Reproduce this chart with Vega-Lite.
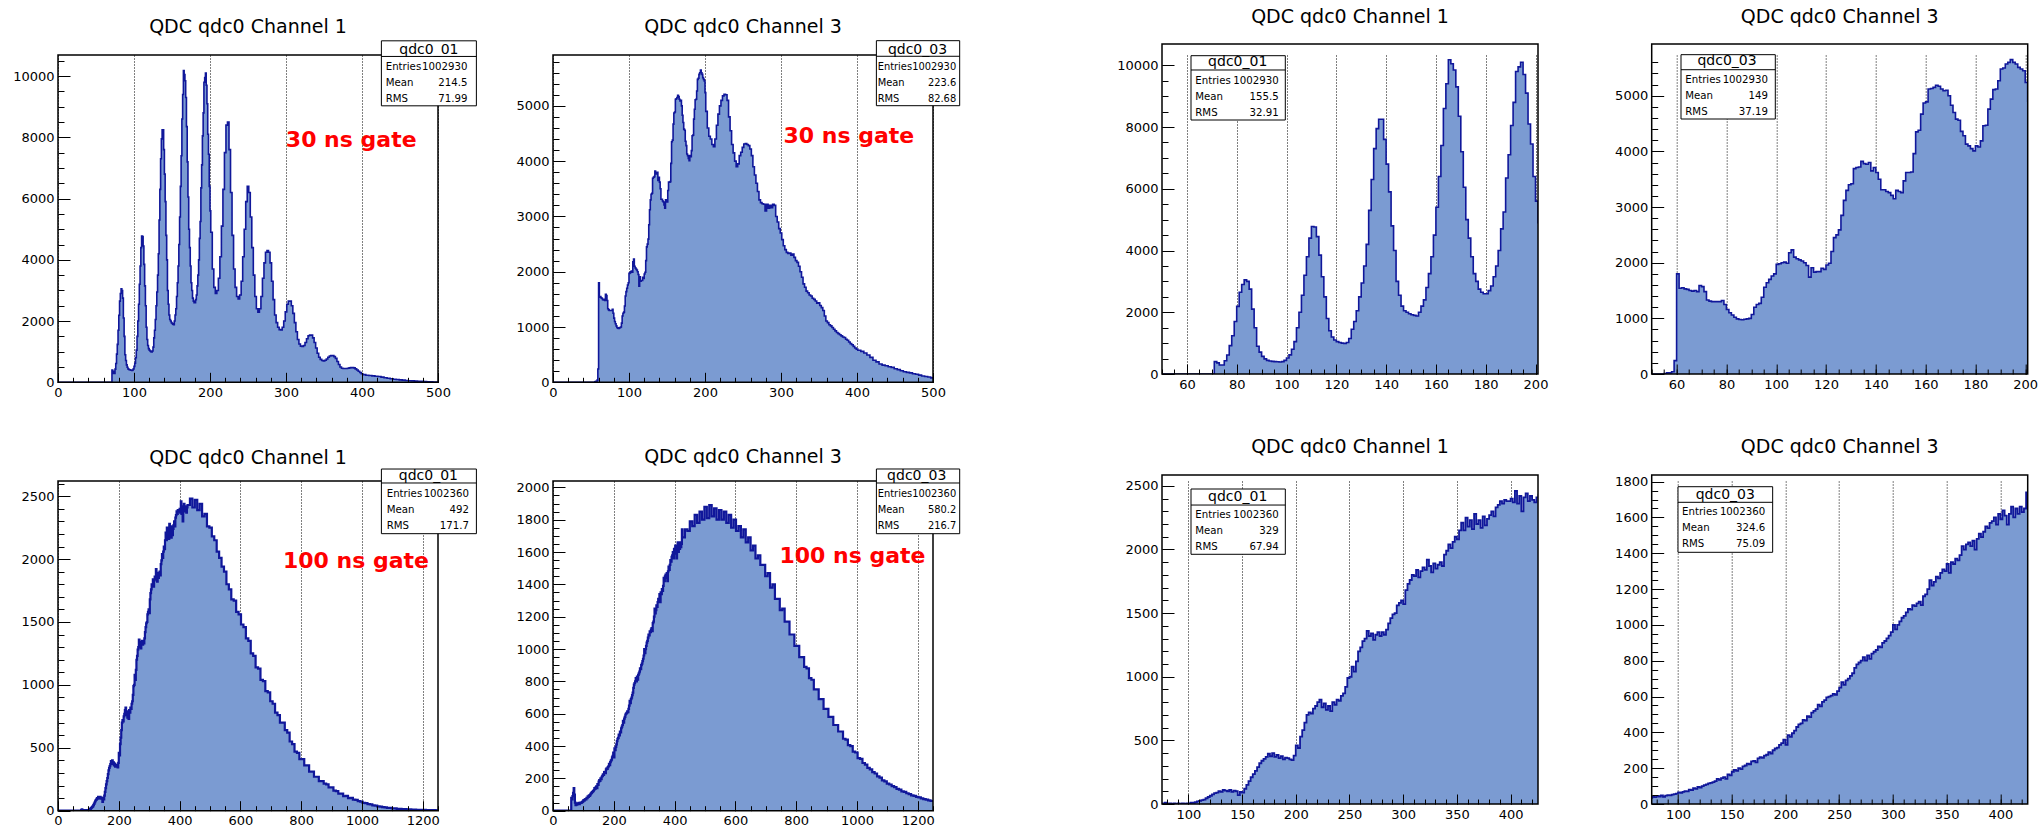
{
"$schema": "https://vega.github.io/schema/vega-lite/v6.json",
"padding": {"left": 12, "top": 8, "right": 2, "bottom": 0},
"background": "white",
"config": {
 "view": {"stroke": null},
 "axis": {"domain": false, "labelFont": "DejaVu Sans", "labelFontSize": 13, "labelColor": "black", "tickColor": "black", "tickWidth": 1, "labelFlush": false, "labelOverlap": false, "labelBound": false, "grid": false, "gridDash": [1, 2], "gridColor": "black", "gridWidth": 1, "gridOpacity": 1, "offset": 0},
 "title": {"font": "DejaVu Sans", "fontSize": 19, "fontWeight": "normal", "color": "black", "anchor": "middle", "frame": "group"},
 "text": {"font": "DejaVu Sans", "color": "black"}
},
"datasets": {
"A": [{"x":0,"y":0},{"x":71,"y":400},{"x":72,"y":360},{"x":73,"y":290},{"x":74,"y":290},{"x":75,"y":430},{"x":76,"y":615},{"x":77,"y":920},{"x":78,"y":1240},{"x":79,"y":1700},{"x":80,"y":2190},{"x":81,"y":2650},{"x":82,"y":2900},{"x":83,"y":3050},{"x":84,"y":3000},{"x":85,"y":2750},{"x":86,"y":2100},{"x":87,"y":1500},{"x":88,"y":900},{"x":89,"y":710},{"x":90,"y":570},{"x":91,"y":490},{"x":92,"y":440},{"x":93,"y":420},{"x":94,"y":410},{"x":95,"y":400},{"x":96,"y":395},{"x":97,"y":390},{"x":98,"y":400},{"x":99,"y":440},{"x":100,"y":520},{"x":101,"y":620},{"x":102,"y":800},{"x":103,"y":1050},{"x":104,"y":1500},{"x":105,"y":2000},{"x":106,"y":2550},{"x":107,"y":3200},{"x":108,"y":3800},{"x":109,"y":4400},{"x":110,"y":4780},{"x":111,"y":4760},{"x":112,"y":4450},{"x":113,"y":3850},{"x":114,"y":3150},{"x":115,"y":2500},{"x":116,"y":1800},{"x":117,"y":1400},{"x":118,"y":1200},{"x":119,"y":1100},{"x":120,"y":1050},{"x":121,"y":1020},{"x":122,"y":1000},{"x":123,"y":990},{"x":124,"y":1020},{"x":125,"y":1150},{"x":126,"y":1450},{"x":127,"y":1700},{"x":128,"y":2050},{"x":129,"y":2500},{"x":130,"y":2950},{"x":131,"y":3500},{"x":132,"y":4200},{"x":133,"y":5300},{"x":134,"y":6300},{"x":135,"y":7300},{"x":136,"y":7950},{"x":137,"y":8250},{"x":138,"y":8250},{"x":139,"y":7600},{"x":140,"y":6800},{"x":141,"y":5900},{"x":142,"y":4800},{"x":143,"y":4000},{"x":144,"y":3000},{"x":145,"y":2550},{"x":146,"y":2200},{"x":147,"y":2050},{"x":148,"y":2000},{"x":149,"y":1950},{"x":150,"y":1920},{"x":151,"y":1900},{"x":152,"y":1880},{"x":153,"y":2000},{"x":154,"y":2200},{"x":155,"y":2400},{"x":156,"y":2800},{"x":157,"y":3250},{"x":158,"y":3800},{"x":159,"y":4500},{"x":160,"y":5400},{"x":161,"y":6400},{"x":162,"y":7400},{"x":163,"y":8600},{"x":164,"y":9400},{"x":165,"y":10180},{"x":166,"y":10050},{"x":167,"y":9850},{"x":168,"y":9300},{"x":169,"y":8350},{"x":170,"y":7200},{"x":171,"y":6050},{"x":172,"y":5000},{"x":173,"y":4400},{"x":174,"y":3800},{"x":175,"y":3250},{"x":176,"y":3000},{"x":177,"y":2750},{"x":178,"y":2650},{"x":179,"y":2600},{"x":180,"y":2600},{"x":181,"y":2700},{"x":182,"y":2850},{"x":183,"y":3150},{"x":184,"y":3500},{"x":185,"y":4000},{"x":186,"y":4700},{"x":187,"y":5250},{"x":188,"y":6350},{"x":189,"y":7100},{"x":190,"y":8050},{"x":191,"y":8800},{"x":192,"y":9800},{"x":193,"y":9950},{"x":194,"y":10100},{"x":195,"y":9700},{"x":196,"y":9100},{"x":197,"y":8100},{"x":198,"y":7450},{"x":199,"y":6400},{"x":200,"y":5600},{"x":201,"y":4900},{"x":203,"y":3700},{"x":205,"y":3100},{"x":207,"y":2900},{"x":209,"y":3000},{"x":211,"y":3400},{"x":213,"y":4100},{"x":215,"y":5100},{"x":217,"y":6300},{"x":219,"y":7500},{"x":221,"y":8400},{"x":223,"y":8500},{"x":225,"y":7600},{"x":227,"y":6200},{"x":229,"y":4800},{"x":231,"y":3700},{"x":233,"y":3100},{"x":235,"y":2800},{"x":237,"y":2720},{"x":239,"y":2850},{"x":241,"y":3300},{"x":243,"y":4100},{"x":245,"y":5000},{"x":247,"y":5900},{"x":249,"y":6400},{"x":251,"y":6200},{"x":253,"y":5400},{"x":255,"y":4400},{"x":257,"y":3500},{"x":259,"y":2800},{"x":261,"y":2400},{"x":263,"y":2290},{"x":265,"y":2400},{"x":267,"y":2800},{"x":269,"y":3400},{"x":271,"y":3900},{"x":273,"y":4250},{"x":275,"y":4300},{"x":277,"y":4250},{"x":279,"y":3900},{"x":281,"y":3300},{"x":283,"y":2700},{"x":285,"y":2200},{"x":287,"y":1950},{"x":289,"y":1800},{"x":291,"y":1720},{"x":293,"y":1710},{"x":295,"y":1800},{"x":297,"y":2000},{"x":299,"y":2300},{"x":301,"y":2550},{"x":303,"y":2650},{"x":305,"y":2650},{"x":307,"y":2500},{"x":309,"y":2250},{"x":311,"y":1950},{"x":313,"y":1650},{"x":315,"y":1400},{"x":317,"y":1250},{"x":319,"y":1180},{"x":321,"y":1170},{"x":323,"y":1200},{"x":325,"y":1300},{"x":327,"y":1420},{"x":329,"y":1520},{"x":331,"y":1545},{"x":333,"y":1540},{"x":335,"y":1450},{"x":337,"y":1300},{"x":339,"y":1120},{"x":341,"y":950},{"x":343,"y":820},{"x":345,"y":750},{"x":347,"y":710},{"x":349,"y":700},{"x":351,"y":720},{"x":353,"y":760},{"x":355,"y":820},{"x":357,"y":860},{"x":359,"y":870},{"x":361,"y":870},{"x":363,"y":840},{"x":365,"y":780},{"x":367,"y":680},{"x":369,"y":580},{"x":371,"y":500},{"x":373,"y":460},{"x":375,"y":450},{"x":377,"y":450},{"x":379,"y":450},{"x":381,"y":460},{"x":383,"y":470},{"x":385,"y":480},{"x":387,"y":480},{"x":389,"y":470},{"x":391,"y":440},{"x":393,"y":400},{"x":395,"y":360},{"x":397,"y":320},{"x":399,"y":280},{"x":401,"y":250},{"x":405,"y":230},{"x":409,"y":220},{"x":413,"y":210},{"x":417,"y":200},{"x":421,"y":190},{"x":425,"y":170},{"x":429,"y":150},{"x":433,"y":130},{"x":437,"y":115},{"x":441,"y":100},{"x":445,"y":90},{"x":449,"y":80},{"x":453,"y":70},{"x":457,"y":60},{"x":461,"y":50},{"x":465,"y":45},{"x":469,"y":40},{"x":473,"y":35},{"x":477,"y":30},{"x":481,"y":25},{"x":485,"y":20},{"x":489,"y":15},{"x":493,"y":12},{"x":497,"y":10},{"x":501,"y":10}],
"B": [{"x":0,"y":0},{"x":55,"y":10},{"x":56,"y":20},{"x":57,"y":20},{"x":58,"y":40},{"x":59,"y":240},{"x":60,"y":1800},{"x":61,"y":1540},{"x":62,"y":1550},{"x":63,"y":1530},{"x":64,"y":1520},{"x":65,"y":1500},{"x":66,"y":1490},{"x":67,"y":1500},{"x":68,"y":1480},{"x":69,"y":1590},{"x":70,"y":1570},{"x":71,"y":1480},{"x":72,"y":1330},{"x":73,"y":1310},{"x":74,"y":1300},{"x":75,"y":1300},{"x":76,"y":1300},{"x":77,"y":1300},{"x":78,"y":1320},{"x":79,"y":1250},{"x":80,"y":1160},{"x":81,"y":1100},{"x":82,"y":1060},{"x":83,"y":1020},{"x":84,"y":990},{"x":85,"y":980},{"x":86,"y":975},{"x":87,"y":985},{"x":88,"y":990},{"x":89,"y":1000},{"x":90,"y":1070},{"x":91,"y":1200},{"x":92,"y":1250},{"x":93,"y":1270},{"x":94,"y":1380},{"x":95,"y":1560},{"x":96,"y":1640},{"x":97,"y":1700},{"x":98,"y":1760},{"x":99,"y":1800},{"x":100,"y":1970},{"x":101,"y":1980},{"x":102,"y":2000},{"x":103,"y":2010},{"x":104,"y":1990},{"x":105,"y":2180},{"x":106,"y":2230},{"x":107,"y":2100},{"x":108,"y":2070},{"x":109,"y":2050},{"x":110,"y":2030},{"x":111,"y":2000},{"x":112,"y":1950},{"x":113,"y":1740},{"x":114,"y":1910},{"x":115,"y":1830},{"x":116,"y":1840},{"x":117,"y":1840},{"x":118,"y":1900},{"x":119,"y":1880},{"x":120,"y":1960},{"x":121,"y":1990},{"x":122,"y":2200},{"x":123,"y":2450},{"x":124,"y":2500},{"x":125,"y":2590},{"x":126,"y":2850},{"x":127,"y":3120},{"x":128,"y":3300},{"x":129,"y":3400},{"x":130,"y":3420},{"x":131,"y":3690},{"x":132,"y":3710},{"x":133,"y":3720},{"x":134,"y":3820},{"x":135,"y":3780},{"x":136,"y":3770},{"x":137,"y":3800},{"x":138,"y":3650},{"x":139,"y":3710},{"x":140,"y":3620},{"x":141,"y":3500},{"x":142,"y":3310},{"x":143,"y":3310},{"x":144,"y":3280},{"x":145,"y":3260},{"x":146,"y":3210},{"x":147,"y":3150},{"x":148,"y":3300},{"x":149,"y":3280},{"x":150,"y":3260},{"x":151,"y":3470},{"x":152,"y":3620},{"x":153,"y":3620},{"x":154,"y":3630},{"x":155,"y":3960},{"x":156,"y":4350},{"x":157,"y":4380},{"x":158,"y":4670},{"x":159,"y":4870},{"x":160,"y":4890},{"x":161,"y":5120},{"x":162,"y":5130},{"x":163,"y":5150},{"x":164,"y":5190},{"x":165,"y":5170},{"x":166,"y":5120},{"x":167,"y":5090},{"x":168,"y":5100},{"x":169,"y":5000},{"x":170,"y":4830},{"x":171,"y":4700},{"x":172,"y":4580},{"x":173,"y":4560},{"x":174,"y":4360},{"x":175,"y":4280},{"x":176,"y":4130},{"x":177,"y":4100},{"x":178,"y":4050},{"x":179,"y":4010},{"x":180,"y":4100},{"x":181,"y":4080},{"x":182,"y":4190},{"x":183,"y":4460},{"x":184,"y":4470},{"x":185,"y":4760},{"x":186,"y":4940},{"x":187,"y":5110},{"x":188,"y":5120},{"x":189,"y":5270},{"x":190,"y":5480},{"x":191,"y":5500},{"x":192,"y":5570},{"x":193,"y":5600},{"x":194,"y":5650},{"x":195,"y":5600},{"x":196,"y":5570},{"x":197,"y":5510},{"x":198,"y":5480},{"x":199,"y":5450},{"x":200,"y":5240},{"x":201,"y":4900},{"x":203,"y":4600},{"x":205,"y":4450},{"x":207,"y":4400},{"x":209,"y":4300},{"x":211,"y":4260},{"x":213,"y":4400},{"x":215,"y":4650},{"x":217,"y":4850},{"x":219,"y":5000},{"x":221,"y":5100},{"x":223,"y":5180},{"x":225,"y":5210},{"x":227,"y":5200},{"x":229,"y":5100},{"x":231,"y":4800},{"x":233,"y":4550},{"x":235,"y":4300},{"x":237,"y":4150},{"x":239,"y":4000},{"x":241,"y":3900},{"x":243,"y":3950},{"x":245,"y":4100},{"x":247,"y":4160},{"x":249,"y":4250},{"x":251,"y":4310},{"x":253,"y":4320},{"x":255,"y":4300},{"x":257,"y":4280},{"x":259,"y":4220},{"x":261,"y":4100},{"x":263,"y":3900},{"x":265,"y":3750},{"x":267,"y":3600},{"x":269,"y":3450},{"x":271,"y":3300},{"x":273,"y":3250},{"x":275,"y":3230},{"x":277,"y":3220},{"x":279,"y":3100},{"x":281,"y":3220},{"x":283,"y":3150},{"x":285,"y":3200},{"x":287,"y":3160},{"x":289,"y":3220},{"x":291,"y":3200},{"x":293,"y":3000},{"x":295,"y":2900},{"x":297,"y":2780},{"x":299,"y":2700},{"x":301,"y":2580},{"x":303,"y":2470},{"x":305,"y":2400},{"x":307,"y":2350},{"x":309,"y":2330},{"x":311,"y":2340},{"x":313,"y":2300},{"x":315,"y":2320},{"x":317,"y":2260},{"x":319,"y":2200},{"x":321,"y":2170},{"x":323,"y":2100},{"x":325,"y":2000},{"x":327,"y":1900},{"x":329,"y":1780},{"x":331,"y":1720},{"x":333,"y":1650},{"x":335,"y":1620},{"x":337,"y":1580},{"x":339,"y":1560},{"x":341,"y":1520},{"x":343,"y":1500},{"x":345,"y":1470},{"x":347,"y":1430},{"x":349,"y":1440},{"x":351,"y":1390},{"x":353,"y":1350},{"x":355,"y":1300},{"x":357,"y":1200},{"x":359,"y":1110},{"x":361,"y":1080},{"x":363,"y":1040},{"x":365,"y":1020},{"x":367,"y":990},{"x":369,"y":960},{"x":371,"y":930},{"x":373,"y":900},{"x":375,"y":880},{"x":377,"y":860},{"x":379,"y":840},{"x":381,"y":820},{"x":383,"y":810},{"x":385,"y":780},{"x":387,"y":760},{"x":389,"y":730},{"x":391,"y":700},{"x":393,"y":680},{"x":395,"y":650},{"x":397,"y":620},{"x":399,"y":600},{"x":401,"y":580},{"x":405,"y":560},{"x":409,"y":530},{"x":413,"y":495},{"x":417,"y":450},{"x":421,"y":400},{"x":425,"y":370},{"x":429,"y":330},{"x":433,"y":310},{"x":437,"y":300},{"x":441,"y":280},{"x":445,"y":270},{"x":449,"y":245},{"x":453,"y":230},{"x":457,"y":210},{"x":461,"y":190},{"x":465,"y":180},{"x":469,"y":170},{"x":473,"y":155},{"x":477,"y":145},{"x":481,"y":130},{"x":485,"y":115},{"x":489,"y":105},{"x":493,"y":95},{"x":497,"y":80},{"x":501,"y":80}],
"C": [{"x":0,"y":0},{"x":76,"y":5},{"x":78,"y":10},{"x":80,"y":0},{"x":82,"y":5},{"x":84,"y":0},{"x":86,"y":5},{"x":88,"y":0},{"x":90,"y":5},{"x":92,"y":0},{"x":94,"y":5},{"x":96,"y":0},{"x":98,"y":5},{"x":100,"y":5},{"x":102,"y":10},{"x":104,"y":10},{"x":106,"y":15},{"x":108,"y":20},{"x":110,"y":25},{"x":112,"y":30},{"x":114,"y":35},{"x":116,"y":45},{"x":118,"y":55},{"x":120,"y":65},{"x":122,"y":75},{"x":124,"y":85},{"x":126,"y":90},{"x":128,"y":100},{"x":130,"y":95},{"x":132,"y":110},{"x":134,"y":105},{"x":136,"y":100},{"x":138,"y":110},{"x":140,"y":95},{"x":142,"y":105},{"x":144,"y":100},{"x":146,"y":70},{"x":148,"y":95},{"x":150,"y":90},{"x":152,"y":120},{"x":154,"y":150},{"x":156,"y":180},{"x":158,"y":210},{"x":160,"y":235},{"x":162,"y":260},{"x":164,"y":290},{"x":166,"y":320},{"x":168,"y":340},{"x":170,"y":355},{"x":172,"y":370},{"x":174,"y":395},{"x":176,"y":375},{"x":178,"y":400},{"x":180,"y":370},{"x":182,"y":385},{"x":184,"y":360},{"x":186,"y":375},{"x":188,"y":350},{"x":190,"y":365},{"x":192,"y":360},{"x":194,"y":350},{"x":196,"y":345},{"x":198,"y":380},{"x":200,"y":460},{"x":202,"y":440},{"x":204,"y":530},{"x":206,"y":580},{"x":208,"y":640},{"x":210,"y":700},{"x":212,"y":720},{"x":214,"y":710},{"x":216,"y":750},{"x":218,"y":770},{"x":220,"y":800},{"x":222,"y":820},{"x":224,"y":760},{"x":226,"y":790},{"x":228,"y":740},{"x":230,"y":770},{"x":232,"y":730},{"x":234,"y":800},{"x":236,"y":780},{"x":238,"y":820},{"x":240,"y":810},{"x":242,"y":850},{"x":244,"y":870},{"x":246,"y":920},{"x":248,"y":990},{"x":250,"y":1000},{"x":252,"y":1080},{"x":254,"y":1040},{"x":256,"y":1120},{"x":258,"y":1200},{"x":260,"y":1230},{"x":262,"y":1280},{"x":264,"y":1300},{"x":266,"y":1360},{"x":268,"y":1320},{"x":270,"y":1340},{"x":272,"y":1290},{"x":274,"y":1330},{"x":276,"y":1350},{"x":278,"y":1320},{"x":280,"y":1350},{"x":282,"y":1330},{"x":284,"y":1370},{"x":286,"y":1420},{"x":288,"y":1460},{"x":290,"y":1490},{"x":292,"y":1500},{"x":294,"y":1560},{"x":296,"y":1580},{"x":298,"y":1600},{"x":300,"y":1570},{"x":302,"y":1680},{"x":304,"y":1730},{"x":306,"y":1760},{"x":308,"y":1800},{"x":310,"y":1790},{"x":312,"y":1840},{"x":314,"y":1780},{"x":316,"y":1830},{"x":318,"y":1860},{"x":320,"y":1840},{"x":322,"y":1920},{"x":324,"y":1870},{"x":326,"y":1820},{"x":328,"y":1890},{"x":330,"y":1850},{"x":332,"y":1880},{"x":334,"y":1900},{"x":336,"y":1870},{"x":338,"y":1960},{"x":340,"y":1990},{"x":342,"y":2040},{"x":344,"y":2010},{"x":346,"y":2060},{"x":348,"y":2100},{"x":350,"y":2080},{"x":352,"y":2150},{"x":354,"y":2210},{"x":356,"y":2150},{"x":358,"y":2250},{"x":360,"y":2180},{"x":362,"y":2230},{"x":364,"y":2160},{"x":366,"y":2280},{"x":368,"y":2200},{"x":370,"y":2230},{"x":372,"y":2170},{"x":374,"y":2260},{"x":376,"y":2190},{"x":378,"y":2240},{"x":380,"y":2270},{"x":382,"y":2300},{"x":384,"y":2260},{"x":386,"y":2330},{"x":388,"y":2350},{"x":390,"y":2380},{"x":392,"y":2360},{"x":394,"y":2390},{"x":396,"y":2380},{"x":398,"y":2380},{"x":400,"y":2400},{"x":402,"y":2370},{"x":404,"y":2460},{"x":406,"y":2360},{"x":408,"y":2420},{"x":410,"y":2300},{"x":412,"y":2410},{"x":414,"y":2440},{"x":416,"y":2380},{"x":418,"y":2420},{"x":420,"y":2390},{"x":422,"y":2370},{"x":424,"y":2410},{"x":426,"y":2430},{"x":434,"y":2480},{"x":442,"y":2410},{"x":450,"y":2470},{"x":458,"y":2390},{"x":466,"y":2440},{"x":474,"y":2340},{"x":482,"y":2360},{"x":490,"y":2260},{"x":498,"y":2250},{"x":506,"y":2180},{"x":514,"y":2150},{"x":522,"y":2060},{"x":530,"y":2010},{"x":538,"y":1940},{"x":546,"y":1900},{"x":554,"y":1800},{"x":562,"y":1760},{"x":570,"y":1680},{"x":578,"y":1670},{"x":586,"y":1580},{"x":594,"y":1560},{"x":602,"y":1480},{"x":610,"y":1460},{"x":618,"y":1370},{"x":626,"y":1350},{"x":634,"y":1250},{"x":642,"y":1230},{"x":650,"y":1140},{"x":658,"y":1130},{"x":666,"y":1040},{"x":674,"y":1030},{"x":682,"y":950},{"x":690,"y":940},{"x":698,"y":870},{"x":706,"y":850},{"x":714,"y":780},{"x":722,"y":760},{"x":730,"y":700},{"x":738,"y":700},{"x":746,"y":640},{"x":754,"y":620},{"x":762,"y":550},{"x":770,"y":530},{"x":778,"y":470},{"x":786,"y":460},{"x":794,"y":410},{"x":802,"y":410},{"x":810,"y":360},{"x":818,"y":360},{"x":826,"y":310},{"x":834,"y":310},{"x":842,"y":270},{"x":850,"y":270},{"x":858,"y":235},{"x":866,"y":235},{"x":874,"y":215},{"x":882,"y":210},{"x":890,"y":185},{"x":898,"y":185},{"x":906,"y":160},{"x":914,"y":155},{"x":922,"y":135},{"x":930,"y":135},{"x":938,"y":115},{"x":946,"y":118},{"x":954,"y":100},{"x":962,"y":102},{"x":970,"y":88},{"x":978,"y":86},{"x":986,"y":76},{"x":994,"y":72},{"x":1002,"y":62},{"x":1010,"y":60},{"x":1018,"y":52},{"x":1026,"y":50},{"x":1034,"y":42},{"x":1042,"y":41},{"x":1050,"y":35},{"x":1058,"y":33},{"x":1066,"y":29},{"x":1074,"y":27},{"x":1082,"y":23},{"x":1090,"y":22},{"x":1098,"y":19},{"x":1106,"y":18},{"x":1114,"y":15},{"x":1122,"y":15},{"x":1130,"y":12},{"x":1138,"y":12},{"x":1146,"y":10},{"x":1154,"y":10},{"x":1162,"y":8},{"x":1170,"y":8},{"x":1178,"y":7},{"x":1186,"y":7},{"x":1194,"y":6},{"x":1202,"y":6},{"x":1210,"y":5},{"x":1218,"y":5},{"x":1226,"y":4},{"x":1234,"y":4},{"x":1242,"y":3},{"x":1250,"y":3}],
"D": [{"x":0,"y":0},{"x":60,"y":80},{"x":62,"y":70},{"x":64,"y":90},{"x":66,"y":110},{"x":68,"y":140},{"x":70,"y":100},{"x":72,"y":50},{"x":74,"y":35},{"x":76,"y":40},{"x":78,"y":38},{"x":80,"y":45},{"x":82,"y":42},{"x":84,"y":48},{"x":86,"y":40},{"x":88,"y":47},{"x":90,"y":50},{"x":92,"y":48},{"x":94,"y":52},{"x":96,"y":55},{"x":98,"y":58},{"x":100,"y":65},{"x":102,"y":62},{"x":104,"y":68},{"x":106,"y":72},{"x":108,"y":70},{"x":110,"y":80},{"x":112,"y":78},{"x":114,"y":88},{"x":116,"y":85},{"x":118,"y":95},{"x":120,"y":92},{"x":122,"y":100},{"x":124,"y":105},{"x":126,"y":110},{"x":128,"y":115},{"x":130,"y":118},{"x":132,"y":122},{"x":134,"y":128},{"x":136,"y":140},{"x":138,"y":135},{"x":140,"y":145},{"x":142,"y":150},{"x":144,"y":140},{"x":146,"y":165},{"x":148,"y":160},{"x":150,"y":180},{"x":152,"y":190},{"x":154,"y":185},{"x":156,"y":200},{"x":158,"y":195},{"x":160,"y":210},{"x":162,"y":215},{"x":164,"y":225},{"x":166,"y":222},{"x":168,"y":238},{"x":170,"y":240},{"x":172,"y":232},{"x":174,"y":255},{"x":176,"y":262},{"x":178,"y":258},{"x":180,"y":270},{"x":182,"y":275},{"x":184,"y":290},{"x":186,"y":282},{"x":188,"y":300},{"x":190,"y":310},{"x":192,"y":315},{"x":194,"y":330},{"x":196,"y":340},{"x":198,"y":360},{"x":200,"y":330},{"x":202,"y":385},{"x":204,"y":375},{"x":206,"y":395},{"x":208,"y":410},{"x":210,"y":430},{"x":212,"y":445},{"x":214,"y":450},{"x":216,"y":470},{"x":218,"y":465},{"x":220,"y":490},{"x":222,"y":485},{"x":224,"y":510},{"x":226,"y":520},{"x":228,"y":530},{"x":230,"y":555},{"x":232,"y":545},{"x":234,"y":570},{"x":236,"y":580},{"x":238,"y":595},{"x":240,"y":600},{"x":242,"y":605},{"x":244,"y":615},{"x":246,"y":610},{"x":248,"y":630},{"x":250,"y":650},{"x":252,"y":680},{"x":254,"y":665},{"x":256,"y":690},{"x":258,"y":700},{"x":260,"y":715},{"x":262,"y":730},{"x":264,"y":760},{"x":266,"y":780},{"x":268,"y":790},{"x":270,"y":800},{"x":272,"y":820},{"x":274,"y":800},{"x":276,"y":830},{"x":278,"y":810},{"x":280,"y":840},{"x":282,"y":850},{"x":284,"y":860},{"x":286,"y":880},{"x":288,"y":875},{"x":290,"y":900},{"x":292,"y":910},{"x":294,"y":925},{"x":296,"y":940},{"x":298,"y":960},{"x":300,"y":1000},{"x":302,"y":975},{"x":304,"y":1000},{"x":306,"y":1020},{"x":308,"y":1040},{"x":310,"y":1050},{"x":312,"y":1070},{"x":314,"y":1090},{"x":316,"y":1085},{"x":318,"y":1110},{"x":320,"y":1105},{"x":322,"y":1120},{"x":324,"y":1130},{"x":326,"y":1110},{"x":328,"y":1160},{"x":330,"y":1170},{"x":332,"y":1200},{"x":334,"y":1250},{"x":336,"y":1220},{"x":338,"y":1240},{"x":340,"y":1270},{"x":342,"y":1260},{"x":344,"y":1290},{"x":346,"y":1310},{"x":348,"y":1300},{"x":350,"y":1340},{"x":352,"y":1290},{"x":354,"y":1350},{"x":356,"y":1340},{"x":358,"y":1370},{"x":360,"y":1360},{"x":362,"y":1390},{"x":364,"y":1440},{"x":366,"y":1420},{"x":368,"y":1450},{"x":370,"y":1460},{"x":372,"y":1440},{"x":374,"y":1470},{"x":376,"y":1420},{"x":378,"y":1480},{"x":380,"y":1510},{"x":382,"y":1490},{"x":384,"y":1520},{"x":386,"y":1550},{"x":388,"y":1540},{"x":390,"y":1570},{"x":392,"y":1580},{"x":394,"y":1600},{"x":396,"y":1560},{"x":398,"y":1620},{"x":400,"y":1590},{"x":402,"y":1640},{"x":404,"y":1610},{"x":406,"y":1560},{"x":408,"y":1620},{"x":410,"y":1660},{"x":412,"y":1600},{"x":414,"y":1650},{"x":416,"y":1620},{"x":418,"y":1660},{"x":420,"y":1630},{"x":422,"y":1650},{"x":424,"y":1740},{"x":426,"y":1690},{"x":434,"y":1740},{"x":442,"y":1730},{"x":450,"y":1790},{"x":458,"y":1760},{"x":466,"y":1830},{"x":474,"y":1780},{"x":482,"y":1850},{"x":490,"y":1800},{"x":498,"y":1880},{"x":506,"y":1810},{"x":514,"y":1890},{"x":522,"y":1820},{"x":530,"y":1870},{"x":538,"y":1800},{"x":546,"y":1860},{"x":554,"y":1800},{"x":562,"y":1850},{"x":570,"y":1780},{"x":578,"y":1830},{"x":586,"y":1750},{"x":594,"y":1800},{"x":602,"y":1730},{"x":610,"y":1760},{"x":618,"y":1690},{"x":626,"y":1740},{"x":634,"y":1660},{"x":642,"y":1690},{"x":650,"y":1610},{"x":658,"y":1640},{"x":666,"y":1560},{"x":674,"y":1580},{"x":682,"y":1520},{"x":690,"y":1520},{"x":698,"y":1450},{"x":706,"y":1470},{"x":714,"y":1380},{"x":722,"y":1400},{"x":730,"y":1310},{"x":738,"y":1310},{"x":746,"y":1240},{"x":754,"y":1250},{"x":762,"y":1170},{"x":770,"y":1170},{"x":778,"y":1090},{"x":786,"y":1090},{"x":794,"y":1020},{"x":802,"y":1020},{"x":810,"y":950},{"x":818,"y":950},{"x":826,"y":890},{"x":834,"y":880},{"x":842,"y":820},{"x":850,"y":810},{"x":858,"y":750},{"x":866,"y":750},{"x":874,"y":690},{"x":882,"y":690},{"x":890,"y":630},{"x":898,"y":630},{"x":906,"y":580},{"x":914,"y":580},{"x":922,"y":530},{"x":930,"y":530},{"x":938,"y":490},{"x":946,"y":490},{"x":954,"y":445},{"x":962,"y":440},{"x":970,"y":405},{"x":978,"y":400},{"x":986,"y":365},{"x":994,"y":360},{"x":1002,"y":325},{"x":1010,"y":320},{"x":1018,"y":295},{"x":1026,"y":285},{"x":1034,"y":265},{"x":1042,"y":255},{"x":1050,"y":238},{"x":1058,"y":230},{"x":1066,"y":212},{"x":1074,"y":205},{"x":1082,"y":188},{"x":1090,"y":182},{"x":1098,"y":168},{"x":1106,"y":162},{"x":1114,"y":152},{"x":1122,"y":146},{"x":1130,"y":135},{"x":1138,"y":130},{"x":1146,"y":120},{"x":1154,"y":116},{"x":1162,"y":108},{"x":1170,"y":102},{"x":1178,"y":95},{"x":1186,"y":92},{"x":1194,"y":85},{"x":1202,"y":82},{"x":1210,"y":76},{"x":1218,"y":72},{"x":1226,"y":68},{"x":1234,"y":64},{"x":1242,"y":60},{"x":1250,"y":60}]
},
"hconcat": [
{"concat": [
{"width": 380, "height": 327.3,
 "title": {"text": "QDC qdc0 Channel 1", "offset": 3},
 "data": {"name": "A"},
 "layer": [
  {"mark": {"type": "area", "interpolate": "step-after", "color": "#7b9bd2", "clip": true},
   "encoding": {"x": {"field": "x", "type": "quantitative", "scale": {"domain": [0, 500], "nice": false, "zero": false}, "axis": {"title": null, "values": [0,100,200,300,400,500], "grid": true, "ticks": false, "tickSize": 0, "labelPadding": 4, "format": "d", "orient": "bottom", "offset": 0, "zindex": 0}},
    "y": {"field": "y", "type": "quantitative", "scale": {"domain": [0, 10690], "nice": false}, "axis": {"title": null, "values": [0,2000,4000,6000,8000,10000], "ticks": false, "tickSize": 0, "labelPadding": 4, "format": "d", "orient": "left", "offset": 0, "zindex": 0}}}},
  {"mark": {"type": "line", "interpolate": "step-after", "color": "#10179a", "strokeWidth": 1.6, "clip": true},
   "encoding": {"x": {"field": "x", "type": "quantitative", "axis": {"title": null, "values": [0,20,40,60,80,100,120,140,160,180,200,220,240,260,280,300,320,340,360,380,400,420,440,460,480,500], "labels": false, "tickSize": -5, "orient": "bottom", "offset": 0, "zindex": 1}},
    "y": {"field": "y", "type": "quantitative", "axis": {"title": null, "values": [0,500,1000,1500,2000,2500,3000,3500,4000,4500,5000,5500,6000,6500,7000,7500,8000,8500,9000,9500,10000,10500], "labels": false, "tickSize": -6, "orient": "left", "offset": 0, "zindex": 1}}}},
  {"data": {"values": [{}]}, "mark": {"type": "rect", "fillOpacity": 0, "stroke": "black", "strokeWidth": 1.5, "clip": false},
   "encoding": {"x": {"datum": 0, "type": "quantitative", "axis": {"title": null, "values": [0,100,200,300,400,500], "labels": false, "tickSize": -10, "orient": "bottom", "offset": 0, "zindex": 1}}, "x2": {"datum": 500}, "y": {"datum": 0, "type": "quantitative", "axis": {"title": null, "values": [0,2000,4000,6000,8000,10000], "labels": false, "tickSize": -12, "orient": "left", "offset": 0, "zindex": 1}}, "y2": {"datum": 10690}}},
  {"data": {"values": [{}]}, "mark": {"type": "rect", "fill": "white", "stroke": "black", "strokeWidth": 1, "clip": false},
   "encoding": {"x": {"datum": 425.5, "type": "quantitative", "axis": null}, "x2": {"datum": 550.5}, "y": {"datum": 11153, "type": "quantitative", "axis": null}, "y2": {"datum": 9030}}},
  {"data": {"values": [{}]}, "mark": {"type": "rule", "color": "black", "strokeWidth": 1, "clip": false},
   "encoding": {"x": {"datum": 425.5, "type": "quantitative", "axis": null}, "x2": {"datum": 550.5}, "y": {"datum": 10643, "type": "quantitative", "axis": null}}},
  {"data": {"values": [{}]}, "mark": {"type": "text", "fontSize": 14, "align": "center", "baseline": "middle", "clip": false},
   "encoding": {"x": {"datum": 488, "type": "quantitative", "axis": null}, "y": {"datum": 10839, "type": "quantitative", "axis": null}, "text": {"value": "qdc0_01"}}},
  {"data": {"values": [{}]}, "mark": {"type": "text", "fontSize": 10.2, "align": "left", "baseline": "top", "lineHeight": 16, "clip": false},
   "encoding": {"x": {"datum": 431.2, "type": "quantitative", "axis": null}, "y": {"datum": 10465, "type": "quantitative", "axis": null}, "text": {"value": ["Entries", "Mean", "RMS"]}}},
  {"data": {"values": [{}]}, "mark": {"type": "text", "fontSize": 10.2, "align": "right", "baseline": "top", "lineHeight": 16, "clip": false},
   "encoding": {"x": {"datum": 538.7, "type": "quantitative", "axis": null}, "y": {"datum": 10465, "type": "quantitative", "axis": null}, "text": {"value": ["1002930", "214.5", "71.99"]}}},
  {"data": {"values": [{}]}, "mark": {"type": "text", "fontSize": 22, "fontWeight": "bold", "color": "#ff0000", "align": "center", "baseline": "middle", "clip": false},
   "encoding": {"x": {"datum": 385.8, "type": "quantitative", "axis": null}, "y": {"datum": 7924, "type": "quantitative", "axis": null}, "text": {"value": "30 ns gate"}}}
 ],
 "resolve": {"axis": {"x": "independent", "y": "independent"}}},
{"width": 380, "height": 327.3,
 "title": {"text": "QDC qdc0 Channel 3", "offset": 3},
 "data": {"name": "B"},
 "layer": [
  {"mark": {"type": "area", "interpolate": "step-after", "color": "#7b9bd2", "clip": true},
   "encoding": {"x": {"field": "x", "type": "quantitative", "scale": {"domain": [0, 500], "nice": false, "zero": false}, "axis": {"title": null, "values": [0,100,200,300,400,500], "grid": true, "ticks": false, "tickSize": 0, "labelPadding": 4, "format": "d", "orient": "bottom", "offset": 0, "zindex": 0}},
    "y": {"field": "y", "type": "quantitative", "scale": {"domain": [0, 5920], "nice": false}, "axis": {"title": null, "values": [0,1000,2000,3000,4000,5000], "ticks": false, "tickSize": 0, "labelPadding": 4, "format": "d", "orient": "left", "offset": 0, "zindex": 0}}}},
  {"mark": {"type": "line", "interpolate": "step-after", "color": "#10179a", "strokeWidth": 1.6, "clip": true},
   "encoding": {"x": {"field": "x", "type": "quantitative", "axis": {"title": null, "values": [0,20,40,60,80,100,120,140,160,180,200,220,240,260,280,300,320,340,360,380,400,420,440,460,480,500], "labels": false, "tickSize": -5, "orient": "bottom", "offset": 0, "zindex": 1}},
    "y": {"field": "y", "type": "quantitative", "axis": {"title": null, "values": [0,200,400,600,800,1000,1200,1400,1600,1800,2000,2200,2400,2600,2800,3000,3200,3400,3600,3800,4000,4200,4400,4600,4800,5000,5200,5400,5600,5800], "labels": false, "tickSize": -6, "orient": "left", "offset": 0, "zindex": 1}}}},
  {"data": {"values": [{}]}, "mark": {"type": "rect", "fillOpacity": 0, "stroke": "black", "strokeWidth": 1.5, "clip": false},
   "encoding": {"x": {"datum": 0, "type": "quantitative", "axis": {"title": null, "values": [0,100,200,300,400,500], "labels": false, "tickSize": -10, "orient": "bottom", "offset": 0, "zindex": 1}}, "x2": {"datum": 500}, "y": {"datum": 0, "type": "quantitative", "axis": {"title": null, "values": [0,1000,2000,3000,4000,5000], "labels": false, "tickSize": -12, "orient": "left", "offset": 0, "zindex": 1}}, "y2": {"datum": 5920}}},
  {"data": {"values": [{}]}, "mark": {"type": "rect", "fill": "white", "stroke": "black", "strokeWidth": 1, "clip": false},
   "encoding": {"x": {"datum": 425.5, "type": "quantitative", "axis": null}, "x2": {"datum": 535.1}, "y": {"datum": 6179, "type": "quantitative", "axis": null}, "y2": {"datum": 5003}}},
  {"data": {"values": [{}]}, "mark": {"type": "rule", "color": "black", "strokeWidth": 1, "clip": false},
   "encoding": {"x": {"datum": 425.5, "type": "quantitative", "axis": null}, "x2": {"datum": 535.1}, "y": {"datum": 5897, "type": "quantitative", "axis": null}}},
  {"data": {"values": [{}]}, "mark": {"type": "text", "fontSize": 14, "align": "center", "baseline": "middle", "clip": false},
   "encoding": {"x": {"datum": 479.6, "type": "quantitative", "axis": null}, "y": {"datum": 6005, "type": "quantitative", "axis": null}, "text": {"value": "qdc0_03"}}},
  {"data": {"values": [{}]}, "mark": {"type": "text", "fontSize": 9.9, "align": "left", "baseline": "top", "lineHeight": 16, "clip": false},
   "encoding": {"x": {"datum": 427.2, "type": "quantitative", "axis": null}, "y": {"datum": 5795, "type": "quantitative", "axis": null}, "text": {"value": ["Entries", "Mean", "RMS"]}}},
  {"data": {"values": [{}]}, "mark": {"type": "text", "fontSize": 9.9, "align": "right", "baseline": "top", "lineHeight": 16, "clip": false},
   "encoding": {"x": {"datum": 530.5, "type": "quantitative", "axis": null}, "y": {"datum": 5795, "type": "quantitative", "axis": null}, "text": {"value": ["1002930", "223.6", "82.68"]}}},
  {"data": {"values": [{}]}, "mark": {"type": "text", "fontSize": 22, "fontWeight": "bold", "color": "#ff0000", "align": "center", "baseline": "middle", "clip": false},
   "encoding": {"x": {"datum": 389.3, "type": "quantitative", "axis": null}, "y": {"datum": 4460, "type": "quantitative", "axis": null}, "text": {"value": "30 ns gate"}}}
 ],
 "resolve": {"axis": {"x": "independent", "y": "independent"}}},
{"width": 380, "height": 329.7,
 "title": {"text": "QDC qdc0 Channel 1", "offset": 1},
 "data": {"name": "C"},
 "layer": [
  {"mark": {"type": "area", "interpolate": "step-after", "color": "#7b9bd2", "clip": true},
   "encoding": {"x": {"field": "x", "type": "quantitative", "scale": {"domain": [0, 1250], "nice": false, "zero": false}, "axis": {"title": null, "values": [0,200,400,600,800,1000,1200], "grid": true, "ticks": false, "tickSize": 0, "labelPadding": 4, "format": "d", "orient": "bottom", "offset": 0, "zindex": 0}},
    "y": {"field": "y", "type": "quantitative", "scale": {"domain": [0, 2620.8], "nice": false}, "axis": {"title": null, "values": [0,500,1000,1500,2000,2500], "ticks": false, "tickSize": 0, "labelPadding": 4, "format": "d", "orient": "left", "offset": 0, "zindex": 0}}}},
  {"mark": {"type": "line", "interpolate": "step-after", "color": "#10179a", "strokeWidth": 2.2, "clip": true},
   "encoding": {"x": {"field": "x", "type": "quantitative", "axis": {"title": null, "values": [0,50,100,150,200,250,300,350,400,450,500,550,600,650,700,750,800,850,900,950,1000,1050,1100,1150,1200,1250], "labels": false, "tickSize": -5, "orient": "bottom", "offset": 0, "zindex": 1}},
    "y": {"field": "y", "type": "quantitative", "axis": {"title": null, "values": [0,100,200,300,400,500,600,700,800,900,1000,1100,1200,1300,1400,1500,1600,1700,1800,1900,2000,2100,2200,2300,2400,2500,2600], "labels": false, "tickSize": -6, "orient": "left", "offset": 0, "zindex": 1}}}},
  {"data": {"values": [{}]}, "mark": {"type": "rect", "fillOpacity": 0, "stroke": "black", "strokeWidth": 1.5, "clip": false},
   "encoding": {"x": {"datum": 0, "type": "quantitative", "axis": {"title": null, "values": [0,200,400,600,800,1000,1200], "labels": false, "tickSize": -10, "orient": "bottom", "offset": 0, "zindex": 1}}, "x2": {"datum": 1250}, "y": {"datum": 0, "type": "quantitative", "axis": {"title": null, "values": [0,500,1000,1500,2000,2500], "labels": false, "tickSize": -12, "orient": "left", "offset": 0, "zindex": 1}}, "y2": {"datum": 2620.8}}},
  {"data": {"values": [{}]}, "mark": {"type": "rect", "fill": "white", "stroke": "black", "strokeWidth": 1, "clip": false},
   "encoding": {"x": {"datum": 1063.8, "type": "quantitative", "axis": null}, "x2": {"datum": 1376.3}, "y": {"datum": 2716, "type": "quantitative", "axis": null}, "y2": {"datum": 2202}}},
  {"data": {"values": [{}]}, "mark": {"type": "rule", "color": "black", "strokeWidth": 1, "clip": false},
   "encoding": {"x": {"datum": 1063.8, "type": "quantitative", "axis": null}, "x2": {"datum": 1376.3}, "y": {"datum": 2605, "type": "quantitative", "axis": null}}},
  {"data": {"values": [{}]}, "mark": {"type": "text", "fontSize": 14, "align": "center", "baseline": "middle", "clip": false},
   "encoding": {"x": {"datum": 1218.4, "type": "quantitative", "axis": null}, "y": {"datum": 2658, "type": "quantitative", "axis": null}, "text": {"value": "qdc0_01"}}},
  {"data": {"values": [{}]}, "mark": {"type": "text", "fontSize": 10.2, "align": "left", "baseline": "top", "lineHeight": 16, "clip": false},
   "encoding": {"x": {"datum": 1081.3, "type": "quantitative", "axis": null}, "y": {"datum": 2558, "type": "quantitative", "axis": null}, "text": {"value": ["Entries", "Mean", "RMS"]}}},
  {"data": {"values": [{}]}, "mark": {"type": "text", "fontSize": 10.2, "align": "right", "baseline": "top", "lineHeight": 16, "clip": false},
   "encoding": {"x": {"datum": 1352, "type": "quantitative", "axis": null}, "y": {"datum": 2558, "type": "quantitative", "axis": null}, "text": {"value": ["1002360", "492", "171.7"]}}},
  {"data": {"values": [{}]}, "mark": {"type": "text", "fontSize": 22, "fontWeight": "bold", "color": "#ff0000", "align": "center", "baseline": "middle", "clip": false},
   "encoding": {"x": {"datum": 980.3, "type": "quantitative", "axis": null}, "y": {"datum": 1982.5, "type": "quantitative", "axis": null}, "text": {"value": "100 ns gate"}}}
 ],
 "resolve": {"axis": {"x": "independent", "y": "independent"}}},
{"width": 380, "height": 329.7,
 "title": {"text": "QDC qdc0 Channel 3", "offset": 1},
 "data": {"name": "D"},
 "layer": [
  {"mark": {"type": "area", "interpolate": "step-after", "color": "#7b9bd2", "clip": true},
   "encoding": {"x": {"field": "x", "type": "quantitative", "scale": {"domain": [0, 1250], "nice": false, "zero": false}, "axis": {"title": null, "values": [0,200,400,600,800,1000,1200], "grid": true, "ticks": false, "tickSize": 0, "labelPadding": 4, "format": "d", "orient": "bottom", "offset": 0, "zindex": 0}},
    "y": {"field": "y", "type": "quantitative", "scale": {"domain": [0, 2039.3], "nice": false}, "axis": {"title": null, "values": [0,200,400,600,800,1000,1200,1400,1600,1800,2000], "ticks": false, "tickSize": 0, "labelPadding": 4, "format": "d", "orient": "left", "offset": 0, "zindex": 0}}}},
  {"mark": {"type": "line", "interpolate": "step-after", "color": "#10179a", "strokeWidth": 2.2, "clip": true},
   "encoding": {"x": {"field": "x", "type": "quantitative", "axis": {"title": null, "values": [0,50,100,150,200,250,300,350,400,450,500,550,600,650,700,750,800,850,900,950,1000,1050,1100,1150,1200,1250], "labels": false, "tickSize": -5, "orient": "bottom", "offset": 0, "zindex": 1}},
    "y": {"field": "y", "type": "quantitative", "axis": {"title": null, "values": [0,50,100,150,200,250,300,350,400,450,500,550,600,650,700,750,800,850,900,950,1000,1050,1100,1150,1200,1250,1300,1350,1400,1450,1500,1550,1600,1650,1700,1750,1800,1850,1900,1950,2000], "labels": false, "tickSize": -6, "orient": "left", "offset": 0, "zindex": 1}}}},
  {"data": {"values": [{}]}, "mark": {"type": "rect", "fillOpacity": 0, "stroke": "black", "strokeWidth": 1.5, "clip": false},
   "encoding": {"x": {"datum": 0, "type": "quantitative", "axis": {"title": null, "values": [0,200,400,600,800,1000,1200], "labels": false, "tickSize": -10, "orient": "bottom", "offset": 0, "zindex": 1}}, "x2": {"datum": 1250}, "y": {"datum": 0, "type": "quantitative", "axis": {"title": null, "values": [0,200,400,600,800,1000,1200,1400,1600,1800,2000], "labels": false, "tickSize": -12, "orient": "left", "offset": 0, "zindex": 1}}, "y2": {"datum": 2039.3}}},
  {"data": {"values": [{}]}, "mark": {"type": "rect", "fill": "white", "stroke": "black", "strokeWidth": 1, "clip": false},
   "encoding": {"x": {"datum": 1063.8, "type": "quantitative", "axis": null}, "x2": {"datum": 1337.8}, "y": {"datum": 2113.6, "type": "quantitative", "axis": null}, "y2": {"datum": 1713.4}}},
  {"data": {"values": [{}]}, "mark": {"type": "rule", "color": "black", "strokeWidth": 1, "clip": false},
   "encoding": {"x": {"datum": 1063.8, "type": "quantitative", "axis": null}, "x2": {"datum": 1337.8}, "y": {"datum": 2027, "type": "quantitative", "axis": null}}},
  {"data": {"values": [{}]}, "mark": {"type": "text", "fontSize": 14, "align": "center", "baseline": "middle", "clip": false},
   "encoding": {"x": {"datum": 1196.4, "type": "quantitative", "axis": null}, "y": {"datum": 2068, "type": "quantitative", "axis": null}, "text": {"value": "qdc0_03"}}},
  {"data": {"values": [{}]}, "mark": {"type": "text", "fontSize": 9.9, "align": "left", "baseline": "top", "lineHeight": 16, "clip": false},
   "encoding": {"x": {"datum": 1068.1, "type": "quantitative", "axis": null}, "y": {"datum": 1990.5, "type": "quantitative", "axis": null}, "text": {"value": ["Entries", "Mean", "RMS"]}}},
  {"data": {"values": [{}]}, "mark": {"type": "text", "fontSize": 9.9, "align": "right", "baseline": "top", "lineHeight": 16, "clip": false},
   "encoding": {"x": {"datum": 1326.3, "type": "quantitative", "axis": null}, "y": {"datum": 1990.5, "type": "quantitative", "axis": null}, "text": {"value": ["1002360", "580.2", "216.7"]}}},
  {"data": {"values": [{}]}, "mark": {"type": "text", "fontSize": 22, "fontWeight": "bold", "color": "#ff0000", "align": "center", "baseline": "middle", "clip": false},
   "encoding": {"x": {"datum": 984.9, "type": "quantitative", "axis": null}, "y": {"datum": 1577, "type": "quantitative", "axis": null}, "text": {"value": "100 ns gate"}}}
 ],
 "resolve": {"axis": {"x": "independent", "y": "independent"}}}
], "columns": 2, "align": "each", "bounds": "flush", "spacing": {"row": 98, "column": 115}},
{"concat": [
{"width": 376, "height": 319,
 "title": {"text": "QDC qdc0 Channel 1", "offset": 16},
 "data": {"name": "A"},
 "layer": [
  {"mark": {"type": "area", "interpolate": "step-after", "color": "#7b9bd2", "clip": true},
   "encoding": {"x": {"field": "x", "type": "quantitative", "scale": {"domain": [50, 201], "nice": false, "zero": false}, "axis": {"title": null, "values": [60,80,100,120,140,160,180,200], "grid": true, "ticks": false, "tickSize": 0, "labelPadding": 4, "format": "d", "orient": "bottom", "offset": 0, "zindex": 0}},
    "y": {"field": "y", "type": "quantitative", "scale": {"domain": [0, 10333.7], "nice": false}, "axis": {"title": null, "values": [0,2000,4000,6000,8000,10000], "ticks": false, "tickSize": 0, "labelPadding": 4, "format": "d", "orient": "left", "offset": 0, "zindex": 0}}}},
  {"mark": {"type": "line", "interpolate": "step-after", "color": "#10179a", "strokeWidth": 1.6, "clip": true},
   "encoding": {"x": {"field": "x", "type": "quantitative", "axis": {"title": null, "values": [50,55,60,65,70,75,80,85,90,95,100,105,110,115,120,125,130,135,140,145,150,155,160,165,170,175,180,185,190,195,200], "labels": false, "tickSize": -5, "orient": "bottom", "offset": 0, "zindex": 1}},
    "y": {"field": "y", "type": "quantitative", "axis": {"title": null, "values": [0,500,1000,1500,2000,2500,3000,3500,4000,4500,5000,5500,6000,6500,7000,7500,8000,8500,9000,9500,10000], "labels": false, "tickSize": -6, "orient": "left", "offset": 0, "zindex": 1}}}},
  {"data": {"values": [{}]}, "mark": {"type": "rect", "fillOpacity": 0, "stroke": "black", "strokeWidth": 1.5, "clip": false},
   "encoding": {"x": {"datum": 50, "type": "quantitative", "axis": {"title": null, "values": [60,80,100,120,140,160,180,200], "labels": false, "tickSize": -10, "orient": "bottom", "offset": 0, "zindex": 1}}, "x2": {"datum": 201}, "y": {"datum": 0, "type": "quantitative", "axis": {"title": null, "values": [0,2000,4000,6000,8000,10000], "labels": false, "tickSize": -12, "orient": "left", "offset": 0, "zindex": 1}}, "y2": {"datum": 10690}}},
  {"data": {"values": [{}]}, "mark": {"type": "rect", "fill": "white", "stroke": "black", "strokeWidth": 1, "clip": false},
   "encoding": {"x": {"datum": 61.65, "type": "quantitative", "axis": null}, "x2": {"datum": 99.52}, "y": {"datum": 10311, "type": "quantitative", "axis": null}, "y2": {"datum": 8228}}},
  {"data": {"values": [{}]}, "mark": {"type": "rule", "color": "black", "strokeWidth": 1, "clip": false},
   "encoding": {"x": {"datum": 61.65, "type": "quantitative", "axis": null}, "x2": {"datum": 99.52}, "y": {"datum": 9848, "type": "quantitative", "axis": null}}},
  {"data": {"values": [{}]}, "mark": {"type": "text", "fontSize": 14, "align": "center", "baseline": "middle", "clip": false},
   "encoding": {"x": {"datum": 80.4, "type": "quantitative", "axis": null}, "y": {"datum": 10097, "type": "quantitative", "axis": null}, "text": {"value": "qdc0_01"}}},
  {"data": {"values": [{}]}, "mark": {"type": "text", "fontSize": 10.2, "align": "left", "baseline": "top", "lineHeight": 16, "clip": false},
   "encoding": {"x": {"datum": 63.37, "type": "quantitative", "axis": null}, "y": {"datum": 9666, "type": "quantitative", "axis": null}, "text": {"value": ["Entries", "Mean", "RMS"]}}},
  {"data": {"values": [{}]}, "mark": {"type": "text", "fontSize": 10.2, "align": "right", "baseline": "top", "lineHeight": 16, "clip": false},
   "encoding": {"x": {"datum": 96.87, "type": "quantitative", "axis": null}, "y": {"datum": 9666, "type": "quantitative", "axis": null}, "text": {"value": ["1002930", "155.5", "32.91"]}}}
 ],
 "resolve": {"axis": {"x": "independent", "y": "independent"}}},
{"width": 376, "height": 319,
 "title": {"text": "QDC qdc0 Channel 3", "offset": 16},
 "data": {"name": "B"},
 "layer": [
  {"mark": {"type": "area", "interpolate": "step-after", "color": "#7b9bd2", "clip": true},
   "encoding": {"x": {"field": "x", "type": "quantitative", "scale": {"domain": [50, 201], "nice": false, "zero": false}, "axis": {"title": null, "values": [60,80,100,120,140,160,180,200], "grid": true, "ticks": false, "tickSize": 0, "labelPadding": 4, "format": "d", "orient": "bottom", "offset": 0, "zindex": 0}},
    "y": {"field": "y", "type": "quantitative", "scale": {"domain": [0, 5732.3], "nice": false}, "axis": {"title": null, "values": [0,1000,2000,3000,4000,5000], "ticks": false, "tickSize": 0, "labelPadding": 4, "format": "d", "orient": "left", "offset": 0, "zindex": 0}}}},
  {"mark": {"type": "line", "interpolate": "step-after", "color": "#10179a", "strokeWidth": 1.6, "clip": true},
   "encoding": {"x": {"field": "x", "type": "quantitative", "axis": {"title": null, "values": [50,55,60,65,70,75,80,85,90,95,100,105,110,115,120,125,130,135,140,145,150,155,160,165,170,175,180,185,190,195,200], "labels": false, "tickSize": -5, "orient": "bottom", "offset": 0, "zindex": 1}},
    "y": {"field": "y", "type": "quantitative", "axis": {"title": null, "values": [0,200,400,600,800,1000,1200,1400,1600,1800,2000,2200,2400,2600,2800,3000,3200,3400,3600,3800,4000,4200,4400,4600,4800,5000,5200,5400,5600], "labels": false, "tickSize": -6, "orient": "left", "offset": 0, "zindex": 1}}}},
  {"data": {"values": [{}]}, "mark": {"type": "rect", "fillOpacity": 0, "stroke": "black", "strokeWidth": 1.5, "clip": false},
   "encoding": {"x": {"datum": 50, "type": "quantitative", "axis": {"title": null, "values": [60,80,100,120,140,160,180,200], "labels": false, "tickSize": -10, "orient": "bottom", "offset": 0, "zindex": 1}}, "x2": {"datum": 201}, "y": {"datum": 0, "type": "quantitative", "axis": {"title": null, "values": [0,1000,2000,3000,4000,5000], "labels": false, "tickSize": -12, "orient": "left", "offset": 0, "zindex": 1}}, "y2": {"datum": 5930}}},
  {"data": {"values": [{}]}, "mark": {"type": "rect", "fill": "white", "stroke": "black", "strokeWidth": 1, "clip": false},
   "encoding": {"x": {"datum": 61.77, "type": "quantitative", "axis": null}, "x2": {"datum": 99.64}, "y": {"datum": 5738, "type": "quantitative", "axis": null}, "y2": {"datum": 4582}}},
  {"data": {"values": [{}]}, "mark": {"type": "rule", "color": "black", "strokeWidth": 1, "clip": false},
   "encoding": {"x": {"datum": 61.77, "type": "quantitative", "axis": null}, "x2": {"datum": 99.64}, "y": {"datum": 5468, "type": "quantitative", "axis": null}}},
  {"data": {"values": [{}]}, "mark": {"type": "text", "fontSize": 14, "align": "center", "baseline": "middle", "clip": false},
   "encoding": {"x": {"datum": 80.24, "type": "quantitative", "axis": null}, "y": {"datum": 5619, "type": "quantitative", "axis": null}, "text": {"value": "qdc0_03"}}},
  {"data": {"values": [{}]}, "mark": {"type": "text", "fontSize": 10.2, "align": "left", "baseline": "top", "lineHeight": 16, "clip": false},
   "encoding": {"x": {"datum": 63.49, "type": "quantitative", "axis": null}, "y": {"datum": 5380, "type": "quantitative", "axis": null}, "text": {"value": ["Entries", "Mean", "RMS"]}}},
  {"data": {"values": [{}]}, "mark": {"type": "text", "fontSize": 10.2, "align": "right", "baseline": "top", "lineHeight": 16, "clip": false},
   "encoding": {"x": {"datum": 96.71, "type": "quantitative", "axis": null}, "y": {"datum": 5380, "type": "quantitative", "axis": null}, "text": {"value": ["1002930", "149", "37.19"]}}}
 ],
 "resolve": {"axis": {"x": "independent", "y": "independent"}}},
{"width": 376, "height": 323,
 "title": {"text": "QDC qdc0 Channel 1", "offset": 17.5},
 "data": {"name": "C"},
 "layer": [
  {"mark": {"type": "area", "interpolate": "step-after", "color": "#7b9bd2", "clip": true},
   "encoding": {"x": {"field": "x", "type": "quantitative", "scale": {"domain": [75.5, 425.5], "nice": false, "zero": false}, "axis": {"title": null, "values": [100,150,200,250,300,350,400], "grid": true, "ticks": false, "tickSize": 0, "labelPadding": 4, "format": "d", "orient": "bottom", "offset": 0, "zindex": 0}},
    "y": {"field": "y", "type": "quantitative", "scale": {"domain": [0, 2537.9], "nice": false}, "axis": {"title": null, "values": [0,500,1000,1500,2000,2500], "ticks": false, "tickSize": 0, "labelPadding": 4, "format": "d", "orient": "left", "offset": 0, "zindex": 0}}}},
  {"mark": {"type": "line", "interpolate": "step-after", "color": "#10179a", "strokeWidth": 1.8, "clip": true},
   "encoding": {"x": {"field": "x", "type": "quantitative", "axis": {"title": null, "values": [80,90,100,110,120,130,140,150,160,170,180,190,200,210,220,230,240,250,260,270,280,290,300,310,320,330,340,350,360,370,380,390,400,410,420], "labels": false, "tickSize": -5, "orient": "bottom", "offset": 0, "zindex": 1}},
    "y": {"field": "y", "type": "quantitative", "axis": {"title": null, "values": [0,100,200,300,400,500,600,700,800,900,1000,1100,1200,1300,1400,1500,1600,1700,1800,1900,2000,2100,2200,2300,2400,2500], "labels": false, "tickSize": -6, "orient": "left", "offset": 0, "zindex": 1}}}},
  {"data": {"values": [{}]}, "mark": {"type": "rect", "fillOpacity": 0, "stroke": "black", "strokeWidth": 1.5, "clip": false},
   "encoding": {"x": {"datum": 75.5, "type": "quantitative", "axis": {"title": null, "values": [100,150,200,250,300,350,400], "labels": false, "tickSize": -10, "orient": "bottom", "offset": 0, "zindex": 1}}, "x2": {"datum": 425.5}, "y": {"datum": 0, "type": "quantitative", "axis": {"title": null, "values": [0,500,1000,1500,2000,2500], "labels": false, "tickSize": -12, "orient": "left", "offset": 0, "zindex": 1}}, "y2": {"datum": 2585}}},
  {"data": {"values": [{}]}, "mark": {"type": "rect", "fill": "white", "stroke": "black", "strokeWidth": 1, "clip": false},
   "encoding": {"x": {"datum": 102.5, "type": "quantitative", "axis": null}, "x2": {"datum": 190.3}, "y": {"datum": 2475, "type": "quantitative", "axis": null}, "y2": {"datum": 1962}}},
  {"data": {"values": [{}]}, "mark": {"type": "rule", "color": "black", "strokeWidth": 1, "clip": false},
   "encoding": {"x": {"datum": 102.5, "type": "quantitative", "axis": null}, "x2": {"datum": 190.3}, "y": {"datum": 2349, "type": "quantitative", "axis": null}}},
  {"data": {"values": [{}]}, "mark": {"type": "text", "fontSize": 14, "align": "center", "baseline": "middle", "clip": false},
   "encoding": {"x": {"datum": 145.96, "type": "quantitative", "axis": null}, "y": {"datum": 2414.5, "type": "quantitative", "axis": null}, "text": {"value": "qdc0_01"}}},
  {"data": {"values": [{}]}, "mark": {"type": "text", "fontSize": 10.2, "align": "left", "baseline": "top", "lineHeight": 16, "clip": false},
   "encoding": {"x": {"datum": 106.5, "type": "quantitative", "axis": null}, "y": {"datum": 2313, "type": "quantitative", "axis": null}, "text": {"value": ["Entries", "Mean", "RMS"]}}},
  {"data": {"values": [{}]}, "mark": {"type": "text", "fontSize": 10.2, "align": "right", "baseline": "top", "lineHeight": 16, "clip": false},
   "encoding": {"x": {"datum": 184.1, "type": "quantitative", "axis": null}, "y": {"datum": 2313, "type": "quantitative", "axis": null}, "text": {"value": ["1002360", "329", "67.94"]}}}
 ],
 "resolve": {"axis": {"x": "independent", "y": "independent"}}},
{"width": 376, "height": 323,
 "title": {"text": "QDC qdc0 Channel 3", "offset": 17.5},
 "data": {"name": "D"},
 "layer": [
  {"mark": {"type": "area", "interpolate": "step-after", "color": "#7b9bd2", "clip": true},
   "encoding": {"x": {"field": "x", "type": "quantitative", "scale": {"domain": [75.5, 425.5], "nice": false, "zero": false}, "axis": {"title": null, "values": [100,150,200,250,300,350,400], "grid": true, "ticks": false, "tickSize": 0, "labelPadding": 4, "format": "d", "orient": "bottom", "offset": 0, "zindex": 0}},
    "y": {"field": "y", "type": "quantitative", "scale": {"domain": [0, 1803.5], "nice": false}, "axis": {"title": null, "values": [0,200,400,600,800,1000,1200,1400,1600,1800], "ticks": false, "tickSize": 0, "labelPadding": 4, "format": "d", "orient": "left", "offset": 0, "zindex": 0}}}},
  {"mark": {"type": "line", "interpolate": "step-after", "color": "#10179a", "strokeWidth": 1.8, "clip": true},
   "encoding": {"x": {"field": "x", "type": "quantitative", "axis": {"title": null, "values": [80,90,100,110,120,130,140,150,160,170,180,190,200,210,220,230,240,250,260,270,280,290,300,310,320,330,340,350,360,370,380,390,400,410,420], "labels": false, "tickSize": -5, "orient": "bottom", "offset": 0, "zindex": 1}},
    "y": {"field": "y", "type": "quantitative", "axis": {"title": null, "values": [0,50,100,150,200,250,300,350,400,450,500,550,600,650,700,750,800,850,900,950,1000,1050,1100,1150,1200,1250,1300,1350,1400,1450,1500,1550,1600,1650,1700,1750,1800], "labels": false, "tickSize": -6, "orient": "left", "offset": 0, "zindex": 1}}}},
  {"data": {"values": [{}]}, "mark": {"type": "rect", "fillOpacity": 0, "stroke": "black", "strokeWidth": 1.5, "clip": false},
   "encoding": {"x": {"datum": 75.5, "type": "quantitative", "axis": {"title": null, "values": [100,150,200,250,300,350,400], "labels": false, "tickSize": -10, "orient": "bottom", "offset": 0, "zindex": 1}}, "x2": {"datum": 425.5}, "y": {"datum": 0, "type": "quantitative", "axis": {"title": null, "values": [0,200,400,600,800,1000,1200,1400,1600,1800], "labels": false, "tickSize": -12, "orient": "left", "offset": 0, "zindex": 1}}, "y2": {"datum": 1837}}},
  {"data": {"values": [{}]}, "mark": {"type": "rect", "fill": "white", "stroke": "black", "strokeWidth": 1, "clip": false},
   "encoding": {"x": {"datum": 99.98, "type": "quantitative", "axis": null}, "x2": {"datum": 188.1}, "y": {"datum": 1771.6, "type": "quantitative", "axis": null}, "y2": {"datum": 1405.4}}},
  {"data": {"values": [{}]}, "mark": {"type": "rule", "color": "black", "strokeWidth": 1, "clip": false},
   "encoding": {"x": {"datum": 99.98, "type": "quantitative", "axis": null}, "x2": {"datum": 188.1}, "y": {"datum": 1684.5, "type": "quantitative", "axis": null}}},
  {"data": {"values": [{}]}, "mark": {"type": "text", "fontSize": 14, "align": "center", "baseline": "middle", "clip": false},
   "encoding": {"x": {"datum": 144.0, "type": "quantitative", "axis": null}, "y": {"datum": 1727, "type": "quantitative", "axis": null}, "text": {"value": "qdc0_03"}}},
  {"data": {"values": [{}]}, "mark": {"type": "text", "fontSize": 10.2, "align": "left", "baseline": "top", "lineHeight": 16, "clip": false},
   "encoding": {"x": {"datum": 103.7, "type": "quantitative", "axis": null}, "y": {"datum": 1656.6, "type": "quantitative", "axis": null}, "text": {"value": ["Entries", "Mean", "RMS"]}}},
  {"data": {"values": [{}]}, "mark": {"type": "text", "fontSize": 10.2, "align": "right", "baseline": "top", "lineHeight": 16, "clip": false},
   "encoding": {"x": {"datum": 181.2, "type": "quantitative", "axis": null}, "y": {"datum": 1656.6, "type": "quantitative", "axis": null}, "text": {"value": ["1002360", "324.6", "75.09"]}}}
 ],
 "resolve": {"axis": {"x": "independent", "y": "independent"}}}
], "columns": 2, "align": "each", "bounds": "flush", "spacing": {"row": 107, "column": 113.7}}
],
"spacing": 155
}
